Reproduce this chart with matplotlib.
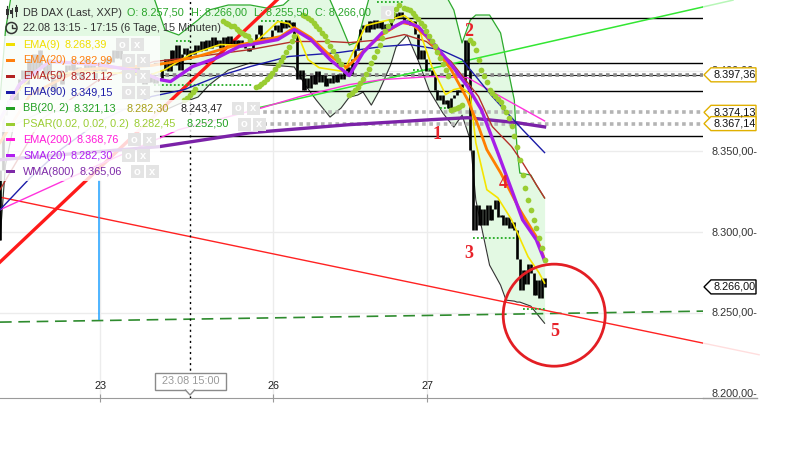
import numpy as np
import matplotlib
matplotlib.use("Agg")
import matplotlib.pyplot as plt
from matplotlib.patches import Polygon, Ellipse, Rectangle
import matplotlib.transforms as mtransforms
from matplotlib.lines import Line2D

plt.rcParams['font.family'] = ['Liberation Sans', 'DejaVu Sans']

# ======================= DATA =======================
first_open = 8295.0
closes = [8338.5, 8372.5, 8377, 8382, 8385, 8382, 8388, 8394.5, 8400.5, 8391.5,
          8407, 8397.5, 8410, 8400.5, 8413, 8403.5, 8394.5, 8407, 8397.5, 8388,
          8394.5, 8400.5, 8391.5, 8397.5, 8403.5, 8400.5, 8407, 8397.5, 8402, 8394.5,
          8399.5, 8407, 8400.5, 8404.5, 8395.5, 8400.5, 8405.5, 8399.5, 8403, 8408,
          8405.5, 8413, 8408, 8414, 8407, 8400.5, 8410, 8403.5, 8397.5, 8402,
          8394.5, 8399.5, 8391.5, 8395.5, 8393, 8397, 8392, 8394.5, 8395.5, 8400.5,
          8407, 8399.5, 8413, 8403.5, 8416, 8400.5, 8410, 8414, 8407, 8413,
          8410, 8416, 8412, 8418, 8413, 8419, 8414, 8420.5, 8415.5, 8419,
          8414, 8420.5, 8416.5, 8421.5, 8416.5, 8419, 8415.5, 8419, 8416, 8414,
          8412, 8414, 8418, 8422.5, 8428.5, 8419, 8420.5, 8419, 8421, 8425,
          8428, 8424, 8430, 8426.5, 8431.5, 8427, 8430, 8422, 8394.5, 8400.5,
          8388, 8395.5, 8389.5, 8397.5, 8391.5, 8399.5, 8393, 8397, 8390.5, 8395.5,
          8392, 8397, 8393, 8398, 8394.5, 8399.5, 8402, 8398, 8407, 8413,
          8419, 8425.5, 8428.5, 8424, 8430.5, 8425.5, 8431.5, 8426.5, 8430.5, 8425.5,
          8429, 8425.5, 8431.5, 8435.5, 8433, 8436.5, 8433, 8430.5, 8431.5, 8428.5,
          8430.5, 8422.5, 8407, 8413, 8407, 8399.5, 8400.5, 8397.5, 8388, 8382,
          8385, 8379, 8382, 8377, 8383, 8385, 8388, 8387, 8391.5, 8419,
          8400.5, 8351, 8301.5, 8317, 8304.5, 8314, 8304.5, 8317, 8307.5, 8314,
          8320, 8309, 8310.5, 8304.5, 8309, 8302.5, 8306.5, 8301.5, 8283, 8264,
          8276.5, 8267.5, 8280.5, 8274.5, 8261, 8270.5, 8259, 8271.5, 8266]

day_ticks = [36.4, 99.3, 155.3]
day_labels = ["23", "26", "27"]
price_ticks = [8200, 8250, 8300, 8350, 8400]
price_tick_labels = ["8.200,00-", "8.250,00-", "8.300,00-", "8.350,00-", "8.400,00-"]

ema9_x = [0, 4, 11, 29, 55, 60, 69, 80, 91, 96, 101, 105, 108, 112, 116, 125, 130, 133, 142, 147,
          152, 157, 162, 165, 168, 171, 173, 177, 181, 186, 192, 196, 198]
ema9_y = [8366.5, 8382.0, 8395.6, 8399.4, 8397.5, 8400.6, 8409.9, 8416.1, 8415.5, 8422.3,
          8430.4, 8429.1, 8423.5, 8406.8, 8401.8, 8399.4, 8417.3, 8427.9, 8431.6, 8434.1,
          8427.3, 8402.5, 8385.1, 8388.2, 8389.4, 8385.1, 8355.3, 8326.2, 8321.2, 8307.6,
          8284.7, 8274.7, 8268.4]
ema20_x = [0, 11, 29, 55, 62, 73, 84, 95, 102, 107, 113, 120, 126, 132, 139, 146, 150, 155, 164,
           170, 174, 177, 182, 189, 195, 198]
ema20_y = [8355.3, 8385.1, 8400.6, 8403.1, 8405.0, 8409.3, 8414.9, 8418.6, 8421.1, 8426.6,
           8420.4, 8409.3, 8401.8, 8411.8, 8422.3, 8429.7, 8428.5, 8421.1, 8400.6, 8382.0,
           8365.3, 8351.0, 8336.7, 8313.8, 8297.1, 8283.0]
sma20_x = [0, 7, 18, 36, 51, 58, 62, 70, 79, 87, 95, 101, 107, 113, 120, 127, 132, 139, 147, 152,
           158, 164, 170, 175, 181, 186, 190, 195, 198]
sma20_y = [8369.6, 8391.3, 8405.6, 8403.7, 8399.4, 8394.4, 8393.2, 8402.5, 8408.0, 8414.9,
           8417.3, 8419.2, 8425.4, 8419.2, 8406.8, 8396.9, 8411.1, 8423.5, 8430.4, 8427.3,
           8416.1, 8403.7, 8390.1, 8375.8, 8349.1, 8326.2, 8307.6, 8295.2, 8282.3]
ema50_x = [0, 15, 36, 56, 69, 91, 107, 120, 127, 139, 147, 155, 164, 174, 179, 186, 190, 198]
ema50_y = [8326.2, 8369.6, 8394.4, 8405.6, 8408.0, 8413.0, 8418.0, 8418.0, 8417.3, 8419.2,
           8422.3, 8418.0, 8405.6, 8383.9, 8365.3, 8352.9, 8343.0, 8321.1]
ema90_x = [0, 11, 22, 36, 55, 67, 79, 91, 105, 123, 139, 149, 160, 168, 179, 190, 198]
ema90_y = [8313.8, 8333.6, 8351.0, 8368.4, 8383.9, 8388.2, 8396.3, 8402.5, 8408.7, 8411.1,
           8414.9, 8416.1, 8413.0, 8406.8, 8383.9, 8363.4, 8349.2]
ema200_x = [0, 36, 65, 93, 109, 127, 139, 157, 170, 182, 198]
ema200_y = [8313.8, 8341.7, 8363.4, 8375.8, 8383.9, 8391.3, 8394.4, 8396.3, 8395.6, 8383.9, 8368.8]
wma800_x = [0, 58, 91, 127, 157, 170, 188, 198]
wma800_y = [8344.8, 8352.9, 8361.5, 8366.5, 8369.6, 8370.8, 8367.7, 8365.1]

bb_x = [0, 2, 5, 15, 36, 55, 60, 65, 72, 76, 83, 91, 97, 103, 107, 111, 115, 120, 124, 127,
        130, 132, 135, 138, 142, 144, 148, 152, 156, 161, 165, 168, 171, 173, 178, 182, 184, 187,
        188, 189, 193, 195, 198]
bb_upper = [8381.7, 8425.1, 8456.1, 8462.3, 8462.3, 8449.9, 8425.1, 8422.0, 8431.3, 8437.5,
            8440.6, 8440.6, 8438.7, 8440.6, 8446.8, 8456.1, 8459.2, 8443.7, 8428.2, 8415.8,
            8417.7, 8431.3, 8449.9, 8462.3, 8468.5, 8468.5, 8468.5, 8462.3, 8456.1, 8449.9,
            8437.5, 8417.1, 8431.3, 8434.4, 8434.4, 8423.3, 8406.5, 8381.7, 8350.8, 8336.5,
            8335.3, 8329.1, 8321.1]
bb_lower = [8295.0, 8341.5, 8366.2, 8374.3, 8375.5, 8376.8, 8375.5, 8379.3, 8383.6, 8391.0,
            8400.3, 8404.7, 8403.4, 8402.8, 8402.2, 8391.0, 8381.7, 8371.2, 8376.8, 8383.6,
            8384.8, 8386.7, 8378.6, 8387.9, 8403.4, 8414.6, 8422.0, 8406.5, 8387.9, 8373.7,
            8365.0, 8372.4, 8357.0, 8319.8, 8279.5, 8267.1, 8257.8, 8257.2, 8256.6, 8256.6,
            8254.1, 8249.8, 8243.5]

psar_x = list(range(67, 72)) + list(range(81, 92)) + list(range(93, 108)) + list(range(110, 125)) \
    + list(range(127, 146)) + list(range(147, 164)) + list(range(164, 169)) + list(range(171, 199))
psar_y = [8382, 8383.2, 8385.1, 8387, 8388.8,
          8430.4, 8429.7, 8429.1, 8427.9, 8427.3, 8426, 8424.8, 8423.5, 8422.3, 8421.1, 8419.2,
          8390.1, 8390.7, 8391.9, 8393.2, 8395, 8396.9, 8398.7, 8401.2, 8403.7, 8406.2, 8408.7,
          8411.8, 8414.9, 8418, 8421.1,
          8434.7, 8434.1, 8432.8, 8431.6, 8429.7, 8427.9, 8426, 8423.5, 8421.1, 8418.6, 8415.5,
          8412.4, 8409.3, 8406.5, 8404,
          8385.1, 8386.3, 8388.2, 8390.1, 8392.5, 8395, 8398.1, 8401.2, 8404.9, 8408.7, 8412.4,
          8416.1, 8420.4, 8424.2, 8427.9, 8431.6, 8435.3, 8438.4, 8440.9,
          8439, 8438.4, 8437.2, 8435.9, 8434.1, 8432.2, 8429.7, 8427.3, 8424.8, 8421.7, 8418.6,
          8415.5, 8411.8, 8408, 8404.3, 8400.6, 8396.9,
          8375.8, 8376.4, 8377, 8377.7, 8378.9,
          8419.2, 8417.3, 8413, 8406.8, 8400.6, 8396.9, 8393.2, 8388.2, 8386.3, 8384.5, 8382.6,
          8380.8, 8377.7, 8374.6, 8370.8, 8365.9, 8359.7, 8352.9, 8344.8, 8335.5, 8327.4, 8320,
          8313.8, 8307.6, 8302.6, 8296.4, 8290.2, 8282.5]

stop_start = [56, 64, 95, 137, 150, 160, 172, 190]
stop_end = [92, 69, 105, 147, 157, 164, 188, 198]
stop_price = [8391.0, 8418.0, 8431.0, 8442.5, 8400.3, 8376.8, 8296.4, 8252.5]

level_prices = [8432.6, 8404.7, 8387.4, 8359.5]
level_start = [141, 56, 56, 58]
dotted_prices = [8397.36, 8374.13, 8367.14]
dotted_start = [55, 93, 93]

red_thick_x, red_thick_y = [0, 100.7], [8281.4, 8443.7]
red_thin_x, red_thin_y = [0, 255.6], [8321.6, 8231.2]
green_x, green_y = [93.5, 255.6], [8376.8, 8439.4]
dash_x, dash_y = [0, 255.6], [8244.2, 8251.0]
cyan_x, cyan_top, cyan_bottom = 36, 8332.2, 8245.6
cross_x = 69.1

wave_labels = ["1", "2", "3", "4", "5"]
wave_x = [158.9, 170.5, 170.5, 182.9, 201.5]
wave_y = [8360.1, 8424.5, 8286.9, 8330.3, 8238.6]
circle_center = (201.5, 8248.5)

box_values = [8397.36, 8374.13, 8367.14, 8266.00]
box_texts = ["8.397,36", "8.374,13", "8.367,14", "8.266,00"]
box_edges = ["#e0b000", "#e0b000", "#e0b000", "#000000"]

legend_rows = [
    [("EMA(9)", "#f0df00"), ("8.268,39", "#f0df00")],
    [("EMA(20)", "#ff7f0e"), ("8.282,99", "#ff7f0e")],
    [("EMA(50)", "#b22222"), ("8.321,12", "#b22222")],
    [("EMA(90)", "#1c1ca8"), ("8.349,15", "#1c1ca8")],
    [("BB(20, 2)", "#22a022"), ("8.321,13", "#22a022"), ("8.282,30", "#a8a018"), ("8.243,47", "#222222")],
    [("PSAR(0.02, 0.02, 0.2)", "#9acd32"), ("8.282,45", "#9acd32"), ("8.252,50", "#22a022")],
    [("EMA(200)", "#ff1ad9"), ("8.368,76", "#ff1ad9")],
    [("SMA(20)", "#b01ef0"), ("8.282,30", "#b01ef0")],
    [("WMA(800)", "#7e2aa8"), ("8.365,06", "#7e2aa8")],
]
legend_markers = ["#f0df00", "#ff7f0e", "#b22222", "#1c1ca8", "#22a022", "#9acd32", "#ff1ad9", "#b01ef0", "#7e2aa8"]
header_title = "DB DAX (Last, XXP)"
header_ohlc = ["O: 8.257,50", "H: 8.266,00", "L: 8.255,50", "C: 8.266,00"]
header_range = "22.08 13:15 - 17:15 (6 Tage, 15 Minuten)"
cross_label = "23.08 15:00"

# ======================= FIGURE =======================
W, H = 807, 451
FS = 7.8
fig = plt.figure(figsize=(W / 100, H / 100), dpi=100)
fig.patch.set_facecolor("white")
PL, PR, PB = 0, 703, 398
ax = fig.add_axes([PL / W, 1 - PB / H, (PR - PL) / W, PB / H])
ax.set_xlim(0, 255.6)
ax.set_ylim(8197.2, 8443.7)
for s in ["left", "right", "top"]:
    ax.spines[s].set_visible(False)
ax.spines["bottom"].set_color("#9a9a9a")
ax.set_yticks([])
ax.set_xticks(day_ticks)
ax.tick_params(axis="x", direction="inout", length=6, color="#9a9a9a", labelbottom=False)
ax.patch.set_alpha(0)

def fp(x, y):
    return (x / W, 1 - y / H)

# grid
for p in price_ticks[1:]:
    ax.axhline(p, color="#ececec", lw=1, zorder=0)
for d in day_ticks:
    ax.axvline(d, color="#ececec", lw=1, zorder=0)

# Bollinger fill + bands
ax.fill_between(bb_x, bb_lower, bb_upper, color="#e3f9e3", lw=0, zorder=1)
ax.plot(bb_x, bb_upper, color="#2eaa2e", lw=0.9, zorder=2)
ax.plot(bb_x, bb_lower, color="#333333", lw=0.8, zorder=2)

# horizontal levels
for p, s in zip(level_prices, level_start):
    ax.plot([s, 255.6], [p, p], color="black", lw=1, zorder=3)
for i, (p, s) in enumerate(zip(dotted_prices, dotted_start)):
    if i == 0:
        ax.plot([s, 255.6], [p, p], color="#222222", lw=0.8, zorder=3)
        ax.plot([s, 255.6], [p, p], color="#8a8a8a", lw=2.6, ls=(0, (1, 1)), zorder=3)
    else:
        ax.plot([s, 255.6], [p, p], color="#b4b4b4", lw=2.6, ls=(0, (1, 1)), zorder=3)

# trend lines
ax.plot(dash_x, dash_y, color="#2e8b2e", lw=1.2, ls=(0, (7, 4)), zorder=3)
ax.plot(red_thin_x, red_thin_y, color="#ff2222", lw=1, zorder=3)
ax.plot(red_thick_x, red_thick_y, color="#ff1a1a", lw=2.4, zorder=3)
ax.plot(green_x, green_y, color="#33e633", lw=1.1, zorder=3)
slope_r = (red_thin_y[1] - red_thin_y[0]) / (red_thin_x[1] - red_thin_x[0])
ax.plot([255.6, 276], [red_thin_y[1], red_thin_y[1] + slope_r * 20.4], color="#ff2222",
        lw=1, alpha=0.15, clip_on=False)
slope_g = (green_y[1] - green_y[0]) / (green_x[1] - green_x[0])
ax.plot([255.6, 266.5], [green_y[1], green_y[1] + slope_g * 10.9], color="#33e633",
        lw=1.1, alpha=0.35, clip_on=False)
ax.vlines(cyan_x, cyan_bottom, cyan_top, color="#1ea0ff", lw=1.1, zorder=3)
ax.axvline(cross_x, color="black", lw=1, ls=(0, (1.5, 2.5)), zorder=3)

# stop-level dotted lines
for s, e, p in zip(stop_start, stop_end, stop_price):
    ax.plot([s, e], [p, p], color="#22aa22", lw=1.3, ls=(0, (1, 1.2)), zorder=4)

# candles
opens = [first_open] + closes[:-1]
lo = np.minimum(opens, closes)
hi = np.maximum(opens, closes)
ax.vlines(np.arange(len(closes)), lo, hi, color="black", lw=1.9, zorder=5)

# moving averages
ax.plot(ema200_x, ema200_y, color="#ff33dd", lw=1, zorder=6)
ax.plot(wma800_x, wma800_y, color="#7b22a8", lw=2.4, zorder=6)
ax.plot(ema90_x, ema90_y, color="#1c1ca8", lw=1, zorder=6)
ax.plot(ema50_x, ema50_y, color="#b5302a", lw=1, zorder=6)
ax.plot(ema9_x, ema9_y, color="#f5e400", lw=1.2, zorder=7)
ax.plot(ema20_x, ema20_y, color="#ff7f00", lw=2, zorder=7)
ax.plot(sma20_x, sma20_y, color="#a61ee8", lw=2.4, zorder=8)

# PSAR
ax.scatter(psar_x, psar_y, s=17, color="#9acd32", linewidths=0, zorder=9)

# annotations
for t, x, y in zip(wave_labels, wave_x, wave_y):
    ax.text(x, y, t, color="#e8222a", fontsize=13, fontweight="bold",
            family=["Liberation Serif", "DejaVu Serif"], ha="center", va="center", zorder=10)
ax.add_patch(Ellipse(circle_center, 102 / 2.75, 102 * 0.6196, fill=False, ec="#e31e24", lw=2,
                     zorder=10))

# x labels (inside, above axis line)
xt = mtransforms.blended_transform_factory(ax.transData, ax.transAxes)
for d, lab in zip(day_ticks, day_labels):
    ax.text(d, 0.03, lab, transform=xt, ha="center", va="center", fontsize=FS, color="#222222")

# right price labels
yt = mtransforms.blended_transform_factory(ax.transAxes, ax.transData)
for p, lab in zip(price_ticks, price_tick_labels):
    ax.text(1 + 8 / 703, p, lab, transform=yt, ha="left", va="center", fontsize=FS,
            color="#333333", clip_on=False, zorder=1)
fig.add_artist(Line2D([703 / W, 757 / W], [1 - PB / H, 1 - PB / H], color="#9a9a9a", lw=1,
                      transform=fig.transFigure))

# price boxes
for v, t, ec in zip(box_values, box_texts, box_edges):
    ydisp = ax.transData.transform((0, v))[1]
    yy = H - ydisp
    pts = [fp(704, yy), fp(711, yy - 7), fp(756, yy - 7), fp(756, yy + 7), fp(711, yy + 7)]
    fig.add_artist(Polygon(pts, closed=True, fc="white", ec=ec, lw=1, transform=fig.transFigure,
                           zorder=20))
    fig.text(*fp(714, yy), t, fontsize=FS, color="#111111", ha="left", va="center", zorder=21)

# crosshair label
fig.add_artist(Rectangle(fp(155, 390), 71 / W, 17 / H, fc="white", ec="#8a8a8a", lw=1,
                         transform=fig.transFigure, zorder=20))
fig.add_artist(Polygon([fp(185, 389.5), fp(190, 395), fp(195, 389.5)], closed=False, fc="white",
                       ec="#8a8a8a", lw=1, transform=fig.transFigure, zorder=21))
fig.text(*fp(190.5, 381.5), cross_label, fontsize=FS, color="#9a9a9a", ha="center", va="center",
         zorder=22)

# legend fade boxes
fig.add_artist(Rectangle(fp(0, 181), 160 / W, 145 / H, fc="white", ec="none", alpha=0.82,
                         transform=fig.transFigure, zorder=15))
fig.add_artist(Rectangle(fp(0, 132), 258 / W, 32 / H, fc="white", ec="none", alpha=0.82,
                         transform=fig.transFigure, zorder=15))

r = fig.canvas.get_renderer()

def seq(x, y, parts, gaps):
    cur = x
    for i, (s, c) in enumerate(parts):
        t = fig.text(cur / W, 1 - y / H, s, color=c, fontsize=FS, ha="left", va="center", zorder=17)
        cur += t.get_window_extent(r).width
        if i < len(parts) - 1:
            cur += gaps[min(i, len(gaps) - 1)]
    return cur

def icons(x, y, n=2):
    for k in range(n):
        x0 = x + k * 15
        fig.add_artist(Rectangle(fp(x0, y + 6.5), 13 / W, 13 / H, fc="#e4e4e4", ec="none",
                                 transform=fig.transFigure, zorder=16))
        fig.text(*fp(x0 + 6.5, y), "o" if k == 0 else "x", fontsize=8, color="white",
                 fontweight="bold", ha="center", va="center", zorder=17)

# header
seq(23, 12.5, [(header_title, "#333333")], [0])
end = seq(127, 12.5, [(s, "#2aa52a") for s in header_ohlc], [7])
icons(end + 10, 12.5, 1)
seq(23, 28, [(header_range, "#333333")], [0])
# header icons
for k, (x0, top, bot, b0, b1) in enumerate([(7, 6, 18, 9, 15), (11.5, 8, 17, 10, 14), (16, 5, 16, 7, 12)]):
    fig.add_artist(Line2D([x0 / W, x0 / W], [1 - top / H, 1 - bot / H], color="#333333", lw=0.8,
                          transform=fig.transFigure, zorder=17))
    fig.add_artist(Rectangle(fp(x0 - 1.5, b1), 3 / W, (b1 - b0) / H, fc="#333333", ec="none",
                             transform=fig.transFigure, zorder=17))
fig.add_artist(Ellipse(fp(11.5, 28), 11 / W, 11 / H, fill=False, ec="#333333", lw=1.1,
                       transform=fig.transFigure, zorder=17))
fig.add_artist(Line2D([11.5 / W, 11.5 / W, 14.5 / W], [1 - 24.5 / H, 1 - 28 / H, 1 - 28 / H],
                      color="#333333", lw=1, transform=fig.transFigure, zorder=17))

# legend rows
for i, (parts, mc) in enumerate(zip(legend_rows, legend_markers)):
    y = 44.5 + 15.9 * i
    fig.add_artist(Rectangle(fp(6, y + 1.5), 9 / W, 3 / H, fc=mc, ec="none",
                             transform=fig.transFigure, zorder=17))
    end = seq(23, y, parts, [4.5, 11])
    icons(end + 9, y, 2)

fig.savefig("out.png", dpi=100, facecolor="white")
